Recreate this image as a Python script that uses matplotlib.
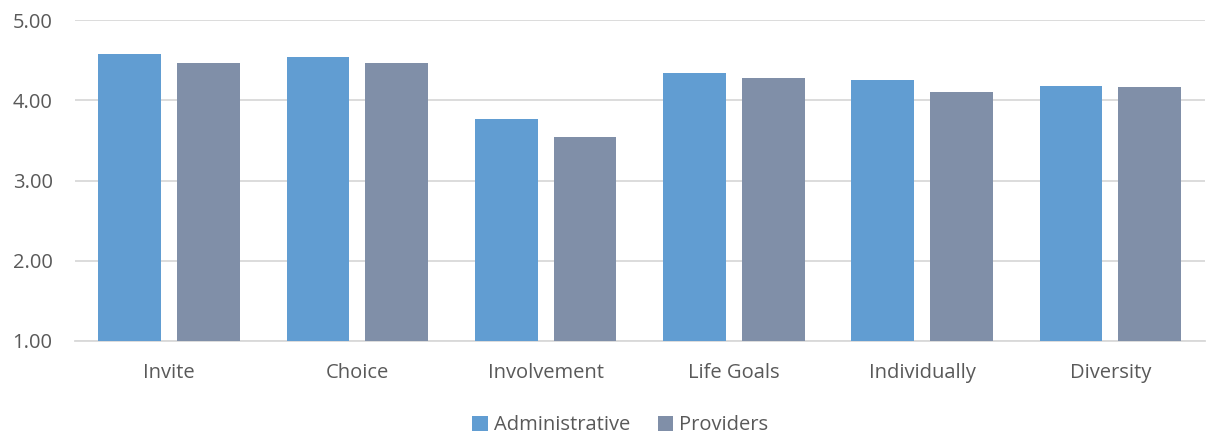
import matplotlib
matplotlib.use("Agg")
import matplotlib.pyplot as plt
import numpy as np

categories = ["Invite", "Choice", "Involvement", "Life Goals", "Individually", "Diversity"]
administrative = [4.58, 4.54, 3.77, 4.34, 4.25, 4.18]
providers = [4.46, 4.46, 3.54, 4.275, 4.10, 4.16]
yticks = [1.0, 2.0, 3.0, 4.0, 5.0]

plt.rcParams['font.family'] = ['Open Sans', 'DejaVu Sans']

fig = plt.figure(figsize=(12.07, 4.36), dpi=100)
ax = fig.add_axes([0.062, 0.218, 0.936, 0.736])

x = np.arange(len(categories))
w = 0.333
off = 0.209
ax.bar(x - off, administrative, w, color="#619DD2", label="Administrative", zorder=3)
ax.bar(x + off, providers, w, color="#808FA8", label="Providers", zorder=3)

ax.set_xlim(-0.5, len(categories) - 0.5)
ax.set_ylim(1, 5)
ax.set_yticks(yticks)
ax.set_yticklabels([f"{v:.2f}" for v in yticks])
ax.set_xticks(x)
ax.set_xticklabels(categories)
ax.tick_params(axis='both', length=0, labelsize=14.5, colors="#595959")
ax.tick_params(axis='x', pad=16)
ax.tick_params(axis='y', pad=16)
ax.yaxis.grid(True, color="#D9D9D9", linewidth=1.3, zorder=0)
for s in ["top", "right", "left"]:
    ax.spines[s].set_visible(False)
ax.spines["bottom"].set_color("#D9D9D9")
ax.spines["bottom"].set_linewidth(1.3)

leg = fig.legend(loc="lower center", bbox_to_anchor=(0.514, -0.04), ncol=2, frameon=False,
                 fontsize=14.5, handlelength=0.75, handleheight=0.75, handletextpad=0.3,
                 columnspacing=1.4)
for t in leg.get_texts():
    t.set_color("#595959")

fig.savefig("out.png", dpi=100)
